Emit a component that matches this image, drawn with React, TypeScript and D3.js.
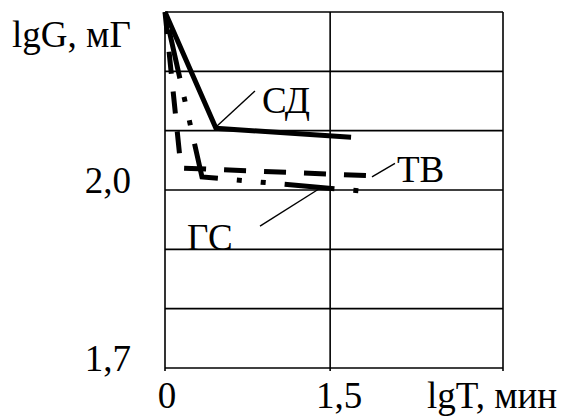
import React from 'react';
import * as d3 from 'd3';

// lgT values (x) and lgG values (y)
const sdX = [0, 0.463, 1.69];
const sdY = [2.3, 2.104, 2.089];
const tvX = [0, 0.145, 1.86];
const tvY = [2.3, 2.037, 2.024];
const gsX = [0, 0.336, 1.8];
const gsY = [2.3, 2.022, 1.998];

const yGrid = [1.7, 1.8, 1.9, 2.0, 2.1, 2.2, 2.3];
const yLabels = [1.7, 2.0];
const xGrid = [0, 1.5, 3.07];
const xLabels = [0, 1.5];

// callouts: leader line from -> to, text position (data units)
const callouts = [
  { name: 'СД', from: [0.463, 2.106], to: [0.817, 2.167], at: [0.881, 2.13] },
  { name: 'ТВ', from: [1.88, 2.022], to: [2.089, 2.045], at: [2.107, 2.013] },
  { name: 'ГС', from: [1.408, 2.003], to: [0.863, 1.939], at: [0.2, 1.899] },
];

const width = 565;
const height = 418;
const fontFamily = '"Liberation Serif", "Times New Roman", serif';
const fontSize = 37;

export default function App() {
  const x = d3.scaleLinear().domain([0, 3.07]).range([165, 503]);
  const y = d3.scaleLinear().domain([1.7, 2.3]).range([368, 12]);

  const line = d3.line<[number, number]>().x(d => x(d[0])).y(d => y(d[1]));
  const pts = (xs: number[], ys: number[]) => xs.map((v, i) => [v, ys[i]] as [number, number]);

  const fmtY = (v: number) => v.toFixed(1).replace('.', ',');
  const fmtX = (v: number) => (v === 0 ? '0' : String(v).replace('.', ','));

  return (
    <div style={{ position: 'fixed', left: 0, top: 0 }}>
      <svg width={width} height={height} style={{ display: 'block', background: '#fff' }}>
        {/* grid */}
        <g stroke="#000" strokeWidth={1.6}>
          {yGrid.map(v => (
            <line key={'h' + v} x1={x(0)} x2={x(3.07)} y1={y(v)} y2={y(v)} />
          ))}
          {xGrid.map(v => (
            <line key={'v' + v} x1={x(v)} x2={x(v)} y1={y(2.3)} y2={y(1.7) + 3} />
          ))}
        </g>

        {/* series */}
        <g fill="none" stroke="#000" strokeWidth={5}>
          <path d={line(pts(tvX, tvY)) || ''} strokeDasharray="22,18" />
          <path d={line(pts(gsX, gsY)) || ''} strokeDasharray="50,19,5,19,5,19" strokeDashoffset={-18} />
          <path d={line(pts(sdX, sdY)) || ''} />
        </g>

        {/* callouts */}
        <g fontFamily={fontFamily} fontSize={fontSize}>
          {callouts.map(c => (
            <g key={c.name}>
              <line
                x1={x(c.from[0])}
                y1={y(c.from[1])}
                x2={x(c.to[0])}
                y2={y(c.to[1])}
                stroke="#000"
                strokeWidth={1.4}
              />
              <text x={x(c.at[0])} y={y(c.at[1])}>{c.name}</text>
            </g>
          ))}
        </g>

        {/* axis labels */}
        <g fontFamily={fontFamily} fontSize={fontSize} fill="#000">
          {yLabels.map(v => (
            <text key={'yl' + v} x={131} y={y(v) + 3} textAnchor="end">{fmtY(v)}</text>
          ))}
          {xLabels.map(v => (
            <text key={'xl' + v} x={x(v) + (v === 0 ? 2 : 9)} y={408} textAnchor="middle">{fmtX(v)}</text>
          ))}
          <text x={12} y={47}>lgG, мГ</text>
          <text x={427} y={408}>lgT, мин</text>
        </g>
      </svg>
    </div>
  );
}
